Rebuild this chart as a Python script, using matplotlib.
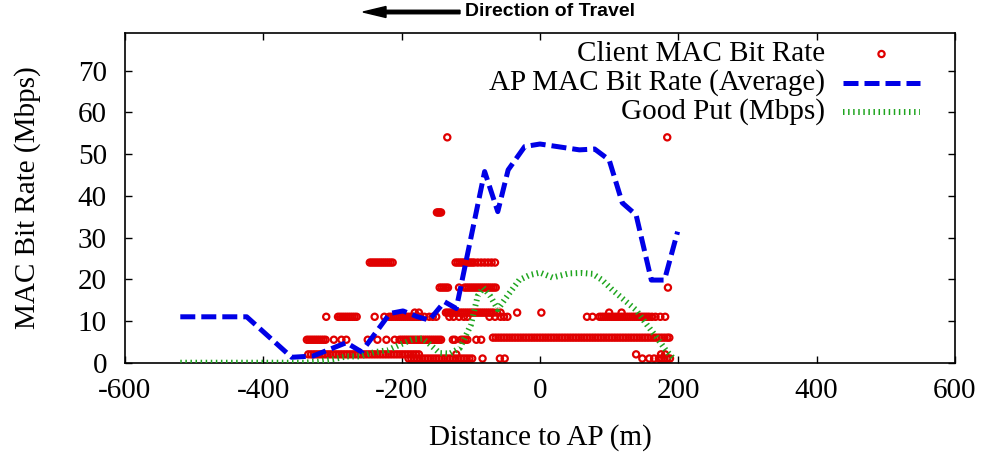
#!/usr/bin/env python3
"""MAC bit rate and good put versus distance to the access point."""

import matplotlib

matplotlib.use("Agg")
import matplotlib.pyplot as plt
from matplotlib.patches import FancyArrow
import numpy as np

# Client MAC bit rate samples, grouped by rate (Mbps): x positions in metres
client_rates = {
    54: [-134, 184],
    36: [-149, -147, -145, -143],
    24: [-246, -243, -240, -237, -234, -231, -228, -225, -222, -219, -216, -213,
         -122, -119, -116, -113, -110, -107, -104, -101, -98, -95, -90, -85, -80,
         -75, -70, -65],
    18: [-145, -142, -139, -136, -133, -117, -109, -106, -103, -100, -97, -94, -91,
         -88, -85, -82, -79, -76, -73, -70, -67, -64, 185],
    12: [-181, -175, -136, -133, -130, -127, -124, -121, -118, -115, -112, -109,
         -106, -103, -100, -97, -94, -91, -88, -85, -82, -79, -76, -73, -70, -67,
         -62, -57, -33, 2, 100, 118],
    11: [-309, -292, -289, -286, -283, -280, -277, -274, -271, -268, -265, -239,
         -225, -218, -215, -212, -209, -206, -203, -200, -197, -194, -191, -188,
         -185, -182, -179, -176, -173, -167, -160, -155, -150, -131, -125, -117,
         -110, -105, -73, -65, -57, -52, -47, 68, 76, 86, 89, 92, 95, 98, 101, 104,
         107, 110, 113, 116, 119, 122, 125, 128, 131, 134, 137, 140, 143, 146, 149,
         152, 155, 158, 162, 167, 174, 181],
    6: [-68, -64, -60, -56, -52, -48, -44, -40, -36, -32, -28, -24, -20, -16, -12,
        -8, -4, 0, 4, 8, 12, 16, 20, 24, 28, 32, 36, 40, 44, 48, 52, 56, 60, 64, 68,
        72, 76, 80, 84, 88, 92, 96, 100, 104, 108, 112, 116, 120, 124, 128, 132,
        136, 140, 144, 148, 152, 156, 160, 164, 168, 172, 176, 180, 184, 187],
    5.5: [-337, -334, -331, -328, -325, -322, -319, -316, -313, -310, -298, -287,
          -280, -249, -235, -222, -210, -203, -200, -197, -194, -191, -188, -185,
          -182, -179, -176, -173, -170, -167, -164, -161, -158, -155, -152, -149,
          -146, -143, -126, -123, -114, -111, -108, -105, -92, -85],
    2: [-335, -331, -327, -323, -319, -315, -311, -307, -303, -299, -295, -291,
        -287, -283, -279, -275, -271, -267, -263, -259, -255, -251, -247, -243,
        -239, -235, -231, -227, -223, -219, -215, -211, -207, -203, -199, -195,
        -191, -187, -183, -179, -175, -121, 139, 175, 181],
    1: [-190, -186, -182, -178, -174, -170, -166, -162, -158, -154, -150, -146,
        -142, -138, -134, -130, -126, -122, -118, -114, -110, -106, -102, -98,
        -83, -58, -51, 148, 158, 165, 172, 176, 180, 184, 188],
}

# AP MAC bit rate (average)
ap_dist = [-520, -424, -359, -328, -280, -258, -217, -198, -177, -160, -138, -121,
           -80, -61, -46, -22, 0, 57, 79, 100, 119, 139, 161, 180, 199]
ap_rate = [11.0, 11.0, 1.3, 1.6, 4.8, 2.6, 11.8, 12.4, 11.0, 10.2, 14.6, 13.0,
           45.8, 36.2, 46.2, 51.8, 52.4, 51.0, 51.2, 48.6, 38.3, 35.4, 19.8, 19.8, 31.4]

# Good put
gp_dist = [-520, -340, -320, -300, -280, -260, -240, -220, -200, -184, -170, -160,
           -145, -130, -116, -100, -90, -82, -72, -61, -45, -30, -15, 0, 18, 42, 60,
           76, 90, 105, 122, 139, 155, 168, 182, 194]
gp_rate = [0.0, 0.0, 0.3, 0.8, 1.5, 1.5, 2.5, 3.0, 4.5, 5.6, 5.8, 4.5, 2.3, 2.2,
           3.5, 9.0, 16.0, 18.0, 16.0, 12.8, 16.5, 19.8, 21.0, 21.6, 20.4, 21.4,
           21.5, 21.3, 19.8, 17.4, 15.0, 12.6, 9.0, 6.2, 3.0, 0.8]

x_ticks = [-600, -400, -200, 0, 200, 400, 600]
y_ticks = [0, 10, 20, 30, 40, 50, 60, 70]

RED = "#e00000"
BLUE = "#0000e6"
GREEN = "#1fa51f"
MARK = dict(s=20, facecolors="none", edgecolors=RED, linewidths=1.6)
AP_STYLE = dict(color=BLUE, lw=3.6, linestyle=(0, (3.0, 1.2)), dash_capstyle="butt")
GP_STYLE = dict(color=GREEN, lw=4.3, linestyle=(0, (0.25, 0.6)), dash_capstyle="butt")

plt.rcParams["axes.unicode_minus"] = False
plt.rcParams["font.family"] = "Liberation Serif"

fig = plt.figure(figsize=(9.84, 4.54), dpi=100)
ax = fig.add_axes([0.127, 0.2011, 0.8435, 0.7262])

cx = np.concatenate([np.asarray(v, dtype=float) for v in client_rates.values()])
cy = np.concatenate([np.full(len(v), k, dtype=float) for k, v in client_rates.items()])
ax.scatter(cx, cy, zorder=2, **MARK)

ax.plot(ap_dist, ap_rate, zorder=3, **AP_STYLE)
ax.plot(gp_dist, gp_rate, zorder=4, **GP_STYLE)

ax.set_xlim(-600, 600)
ax.set_ylim(0, 79)
ax.set_xticks(x_ticks)
ax.set_yticks(y_ticks)
ax.tick_params(direction="in", top=True, right=True, length=5, width=1,
               labelsize=21)
ax.tick_params(axis="y", pad=13)
ax.tick_params(axis="x", pad=11)
for spine in ax.spines.values():
    spine.set_linewidth(1.2)

ax.set_xlabel("Distance to AP (m)", fontsize=21)
ax.xaxis.label.set_va("center")
ax.xaxis.set_label_coords(0.5, -0.228)
ax.set_ylabel("MAC Bit Rate (Mbps)", fontsize=21)
ax.yaxis.label.set_va("center")
ax.yaxis.set_label_coords(-0.117, 0.5)

# key, text right-aligned with the sample to its right
key_text_x = 0.8434
key_x0, key_x1 = 0.865, 0.958
key_rows = [0.9363, 0.8484, 0.7604]
labels = ["Client MAC Bit Rate", "AP MAC Bit Rate (Average)", "Good Put (Mbps)"]
for yk, lab in zip(key_rows, labels):
    ax.text(key_text_x, yk, lab, transform=ax.transAxes, ha="right", va="center",
            fontsize=21, zorder=6)
ax.scatter([(key_x0 + key_x1) / 2], [key_rows[0]], transform=ax.transAxes,
           zorder=6, clip_on=False, **MARK)
ax.plot([key_x0, key_x1], [key_rows[1]] * 2, transform=ax.transAxes, zorder=6,
        **AP_STYLE)
ax.plot([key_x0, key_x1], [key_rows[2]] * 2, transform=ax.transAxes, zorder=6,
        **GP_STYLE)

# direction of travel arrow above the plot
arrow = FancyArrow(4.60, 4.42, -0.97, 0.0, width=0.035, head_width=0.11,
                   head_length=0.23, length_includes_head=True, color="black",
                   transform=fig.dpi_scale_trans)
fig.patches.append(arrow)
fig.text(4.65 / 9.84, 4.42 / 4.54, "Direction of Travel", ha="left", va="center",
         fontsize=14, fontweight="bold", family="Liberation Sans")

fig.savefig("out.png", dpi=100)
